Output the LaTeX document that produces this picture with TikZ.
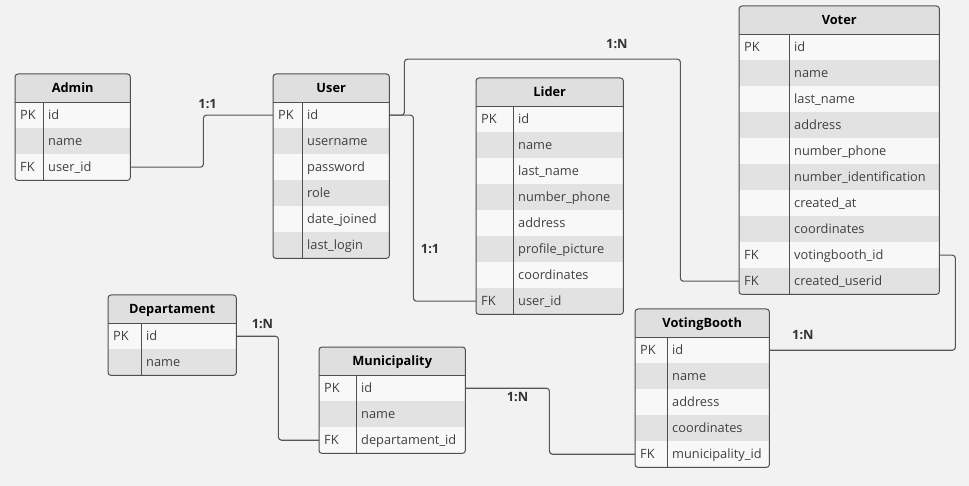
\documentclass[tikz,border=0pt]{standalone}
\usepackage{fontspec}
\setmainfont{Open Sans}
\usetikzlibrary{positioning}
\definecolor{bggray}{HTML}{F2F2F2}
\definecolor{headgray}{HTML}{DFDFDF}
\definecolor{row1}{HTML}{F8F8F8}
\definecolor{row0}{HTML}{E2E2E2}
\definecolor{linegray}{HTML}{505050}
\definecolor{wiregray}{HTML}{555555}

\begin{document}
\begin{tikzpicture}
% Style
[
    x=1pt, y=-1pt, font=\fontsize{12.8}{15}\selectfont,
    head/.style={fill=headgray, minimum height=28pt, inner sep=0pt, anchor=north west,
        text height=2ex, text depth=.42ex, font=\fontsize{12.8}{15}\selectfont\bfseries},
    field/.style={minimum height=26pt, inner ysep=0pt, inner xsep=5pt, align=left,
        anchor=north west, text height=2ex, text depth=.42ex, text=black!75},
    frame/.style={draw=linegray, line width=1pt},
    link/.style={draw=wiregray, line width=1.1pt, rounded corners=3pt},
    card/.style={font=\fontsize{12.8}{15}\selectfont\bfseries, inner sep=1pt, text=black!80}
]
\useasboundingbox[fill=bggray] (0,0) rectangle (969,486);

%=================================== Tables ===================================
\foreach \name/\title/\x/\y/\w/\k/\n/\rows in {
    admin/Admin/15/74/115/28/3/{id/PK, name/{}, user\_id/FK},
    user/User/273/74/116/29/6/{id/PK, username/{}, password/{}, role/{}, date\_joined/{}, last\_login/{}},
    lider/Lider/476/78/147/37/8/{id/PK, name/{}, last\_name/{}, number\_phone/{}, address/{},
        profile\_picture/{}, coordinates/{}, user\_id/FK},
    voter/Voter/739/6/200/50/10/{id/PK, name/{}, last\_name/{}, address/{}, number\_phone/{},
        number\_identification/{}, created\_at/{}, coordinates/{}, votingbooth\_id/FK, created\_userid/FK},
    departament/Departament/108/295/128/33/2/{id/PK, name/{}},
    municipality/Municipality/319/347/146/37/3/{id/PK, name/{}, departament\_id/FK},
    votingbooth/VotingBooth/635/309/134/32/5/{id/PK, name/{}, address/{}, coordinates/{}, municipality\_id/FK}%
} {
    \begin{scope}
        \clip[rounded corners=3pt] (\x,\y) rectangle ++(\w,{28+26*\n});
        \node[head, minimum width=\w pt] (\name) at (\x,\y) {\title};
        \foreach \t/\kk [count=\i] in \rows {
            \pgfmathtruncatemacro\c{mod(\i,2)}
            \pgfmathsetmacro\ry{\y+28+(\i-1)*26}
            \pgfmathsetmacro\kw{\k-10}
            \pgfmathsetmacro\tw{\w-\k-10}
            \node[field, text width=\kw pt, fill=row\c] (\name-\i-k) at (\x,\ry) {\kk};
            \node[field, text width=\tw pt, fill=row\c] (\name-\i) at (\x+\k,\ry) {\t};
        }
    \end{scope}
    \draw[frame] (\name.south west) -- (\name.south east);
    \draw[frame] (\name-1-k.north east) -- (\name-\n-k.south east);
    \draw[frame, rounded corners=3pt] (\name.north west) rectangle (\name-\n.south east);
}

%================================= Relations ==================================
\draw[link] (admin-3.east) -- ++(73,0) |- node[card, pos=.53, above=5pt] {1:1} (user-1-k.west);
\draw[link] (user-1.east) -- ++(15,0) -- ++(0,-56)
    -- node[card, pos=.77, above=9pt] {1:N} ++(276,0) |- (voter-10-k.west);
\draw[link] (user-1.east) -- ++(24,0) |- node[card, pos=.36, right=6pt] {1:1} (lider-8-k.west);
\draw[link] (voter-9.east) -- ++(16,0) |- node[card, pos=.91, above=9pt] {1:N} (votingbooth-1.east);
\draw[link] (departament-1.east) -- node[card, pos=.62, above=6pt] {1:N} ++(42,0)
    |- (municipality-3-k.west);
\draw[link] (municipality-1.east) -- node[card, pos=.62, below=3pt] {1:N} ++(84,0)
    |- (votingbooth-5-k.west);

\end{tikzpicture}
\end{document}
